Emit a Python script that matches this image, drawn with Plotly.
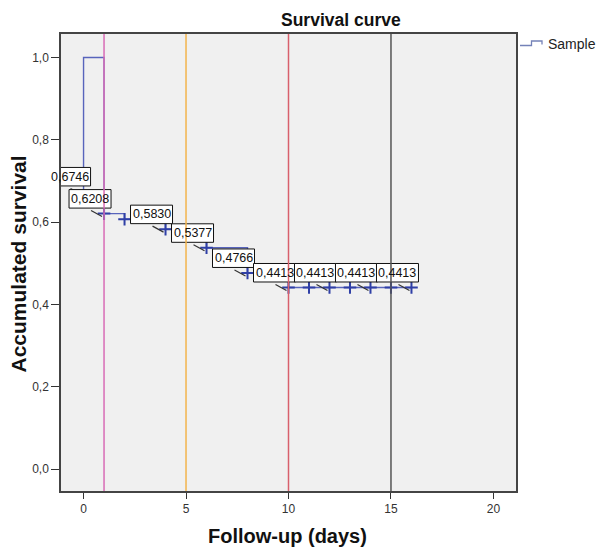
import plotly.graph_objects as go

# ---- data ----
step_days = [0, 0, 1, 2, 4, 6, 8, 10, 16]
step_surv = [0.6746, 1.0, 0.6208, 0.6071, 0.5830, 0.5377, 0.4766, 0.4413, 0.4413]

censor_days = [1, 2, 4, 6, 8, 10, 11, 12, 13, 14, 15, 16]
censor_surv = [0.6208, 0.6071, 0.5830, 0.5377, 0.4766, 0.4413, 0.4413, 0.4413, 0.4413, 0.4413, 0.4413, 0.4413]

label_days = [0, 1, 4, 6, 8, 10, 12, 14, 16]
label_surv = [0.6746, 0.6208, 0.5830, 0.5377, 0.4766, 0.4413, 0.4413, 0.4413, 0.4413]

ref_days = [1, 5, 10, 15]
ref_colors = ["#d86cb6", "#f3b44c", "#d8606c", "#555555"]

x_ticks = [0, 5, 10, 15, 20]
y_ticks = [0.0, 0.2, 0.4, 0.6, 0.8, 1.0]
y_ticktext = ["0,0", "0,2", "0,4", "0,6", "0,8", "1,0"]

FONT = "Liberation Sans, Arial, Helvetica, sans-serif"
W, H = 598, 549
L, R, T, B = 61, 82, 34, 58
PW, PH = W - L - R, H - T - B


def px2paper(px, py):
    return (px - L) / PW, 1 - (py - T) / PH


fig = go.Figure()

fig.add_trace(go.Scatter(
    x=step_days, y=step_surv, mode="lines", line_shape="hv",
    line=dict(color="#5864bc", width=1.4), showlegend=False, hoverinfo="skip"))

fig.add_trace(go.Scatter(
    x=censor_days, y=censor_surv, mode="markers",
    marker=dict(symbol="cross-thin", size=9, line=dict(color="#2f3fa6", width=2)),
    showlegend=False, hoverinfo="skip"))

shapes = []
annotations = []

# label boxes + leader lines (pixel sized, anchored at data points)
for d, v in zip(label_days, label_surv):
    shapes.append(dict(type="rect", xref="x", yref="y", xsizemode="pixel", ysizemode="pixel",
                       xanchor=d, yanchor=v, x0=-35, x1=7, y0=5.5, y1=24,
                       fillcolor="white", line=dict(color="#111111", width=1), layer="above"))
    shapes.append(dict(type="line", xref="x", yref="y", xsizemode="pixel", ysizemode="pixel",
                       xanchor=d, yanchor=v, x0=-13, x1=-2, y0=3, y1=-3,
                       line=dict(color="#333333", width=1.2), layer="above"))
    annotations.append(dict(x=d, y=v, xref="x", yref="y", xshift=-14, yshift=14.7,
                            text=f"{v:.4f}".replace(".", ","), showarrow=False,
                            xanchor="center", yanchor="middle",
                            font=dict(family=FONT, size=12.5, color="#111111")))

# reference vertical lines (drawn above boxes)
for d, c in zip(ref_days, ref_colors):
    shapes.append(dict(type="line", xref="x", yref="paper", x0=d, x1=d, y0=0, y1=1,
                       line=dict(color=c, width=1.5), layer="above"))

# custom legend icon (step shape)
pts = [(520, 45.5), (531.5, 45.5), (531.5, 41), (542, 41), (542, 44.5)]
path = ""
for i, (px, py) in enumerate(pts):
    xp, yp = px2paper(px, py)
    path += ("M" if i == 0 else "L") + f"{xp:.5f},{yp:.5f} "
shapes.append(dict(type="path", xref="paper", yref="paper", path=path.strip(),
                   line=dict(color="#7482b8", width=1.3)))
lx, ly = px2paper(545.5, 43.5)
annotations.append(dict(x=lx, y=ly, xref="paper", yref="paper", text="Sample", showarrow=False,
                        xanchor="left", yanchor="middle",
                        font=dict(family=FONT, size=14, color="#222222")))

# titles
tx, ty = px2paper(341, 19.5)
annotations.append(dict(x=tx, y=ty, xref="paper", yref="paper", text="<b>Survival curve</b>",
                        showarrow=False, xanchor="center", yanchor="middle",
                        font=dict(family=FONT, size=17.5, color="#111111")))
ax_x, ax_y = px2paper(287.5, 536)
annotations.append(dict(x=ax_x, y=ax_y, xref="paper", yref="paper", text="<b>Follow-up (days)</b>",
                        showarrow=False, xanchor="center", yanchor="middle",
                        font=dict(family=FONT, size=20, color="#111111")))
ay_x, ay_y = px2paper(17.5, 264)
annotations.append(dict(x=ay_x, y=ay_y, xref="paper", yref="paper", text="<b>Accumulated survival</b>",
                        showarrow=False, xanchor="center", yanchor="middle", textangle=-90,
                        font=dict(family=FONT, size=21, color="#111111")))

fig.update_layout(
    width=W, height=H, margin=dict(l=L, r=R, t=T, b=B),
    paper_bgcolor="white", plot_bgcolor="#f0f0f0",
    showlegend=False, shapes=shapes, annotations=annotations,
    font=dict(family=FONT, size=12, color="#333333"),
)
fig.update_xaxes(range=[-1.1, 21.1], tickvals=x_ticks, ticks="outside", ticklen=6,
                 tickcolor="#333333", showline=True, linecolor="#444444", linewidth=1.5,
                 mirror=True, showgrid=False, zeroline=False,
                 tickfont=dict(family=FONT, size=12, color="#333333"))
fig.update_yaxes(range=[-0.053, 1.057], tickvals=y_ticks, ticktext=y_ticktext, ticks="outside",
                 ticklen=8, tickcolor="#333333", showline=True, linecolor="#444444", linewidth=1.5,
                 mirror=True, showgrid=False, zeroline=False,
                 tickfont=dict(family=FONT, size=12, color="#333333"))

fig.write_html("out.html", config={"displayModeBar": False},
               post_script="document.body.style.margin='0';document.body.style.overflow='hidden';")
